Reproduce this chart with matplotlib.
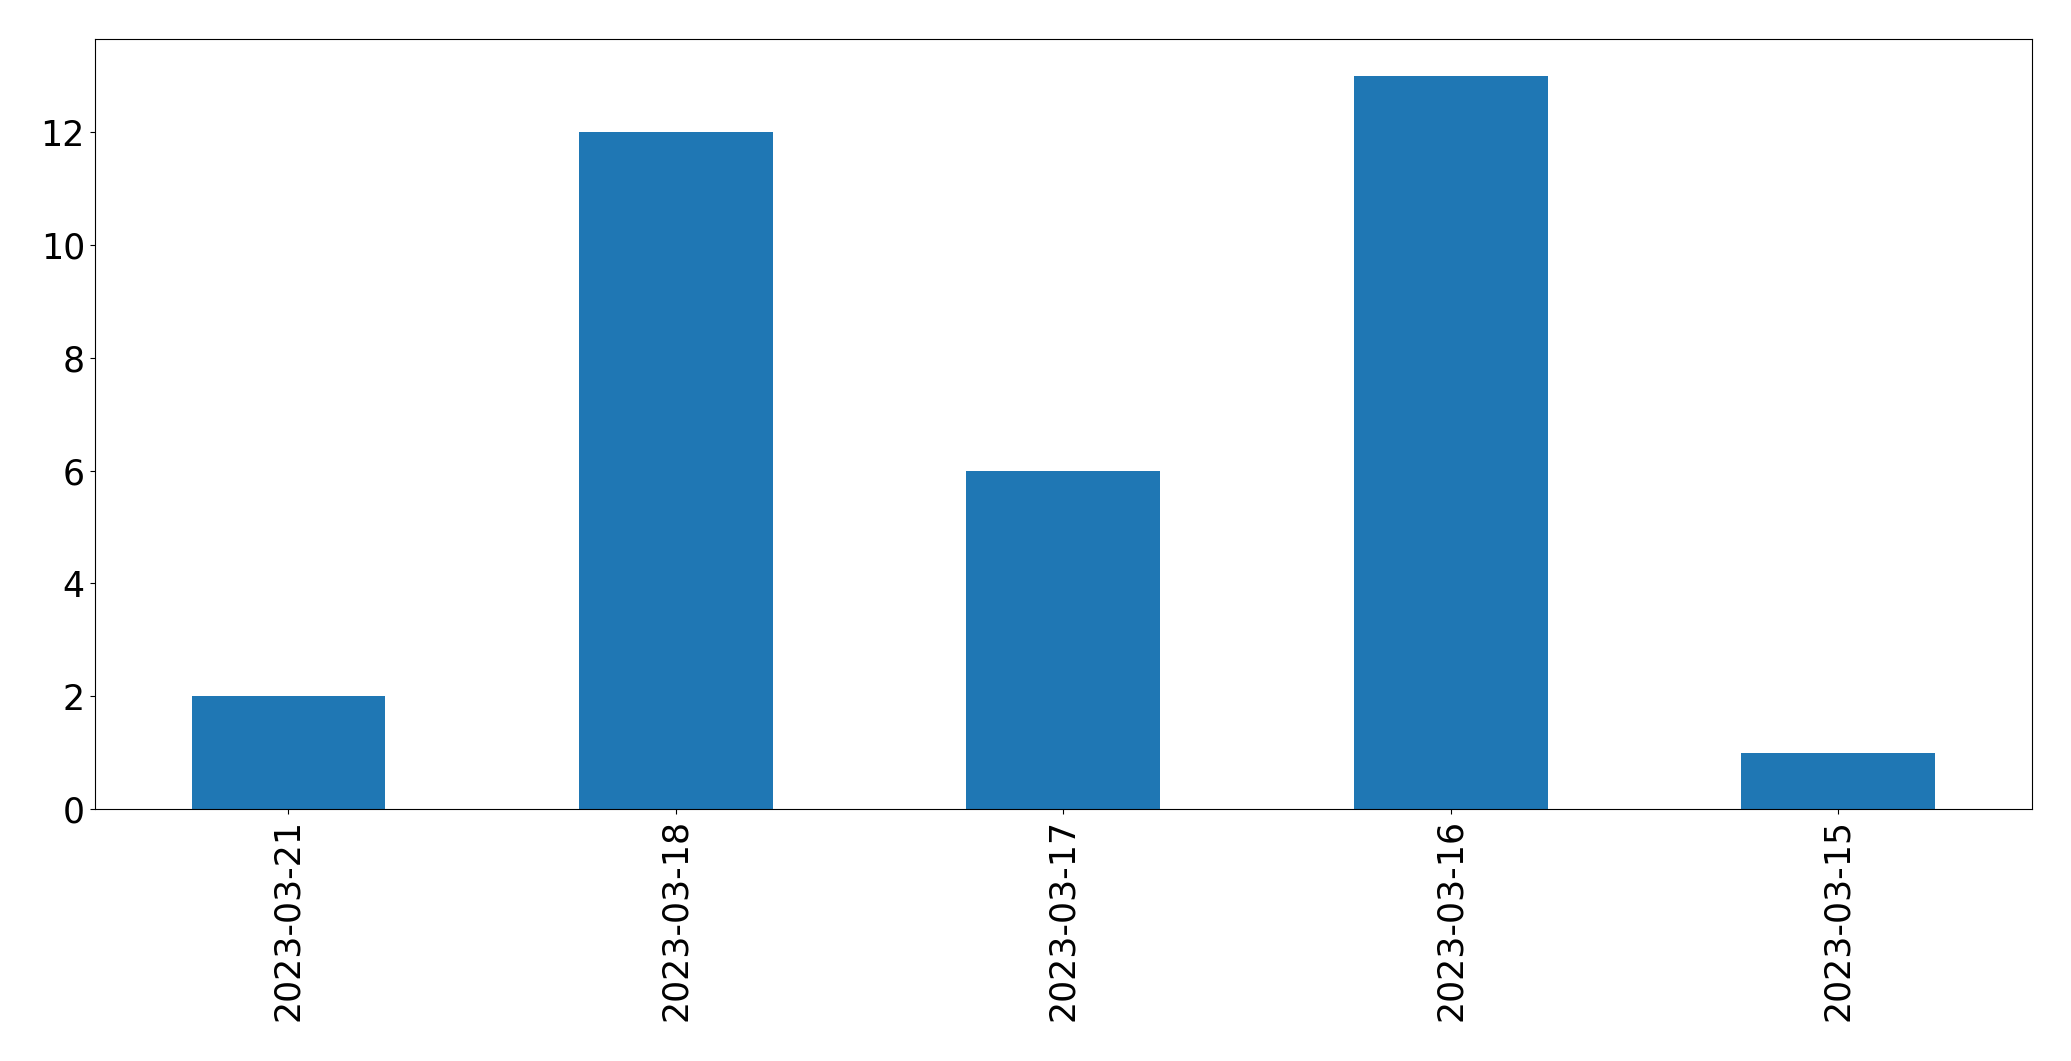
import pandas as pd
import matplotlib
matplotlib.use("Agg")
import matplotlib.pyplot as plt

dates = ["2023-03-21", "2023-03-18", "2023-03-17", "2023-03-16", "2023-03-15"]
counts = [2, 12, 6, 13, 1]

s = pd.Series(counts, index=dates)

plt.rcParams["font.size"] = 25
fig = plt.figure(figsize=(20.71, 10.61), dpi=100)
ax = s.plot(kind="bar", color="#1f77b4")
plt.subplots_adjust(left=0.0457, right=0.9812, top=0.963, bottom=0.2375)
plt.savefig("out.png", dpi=100)
